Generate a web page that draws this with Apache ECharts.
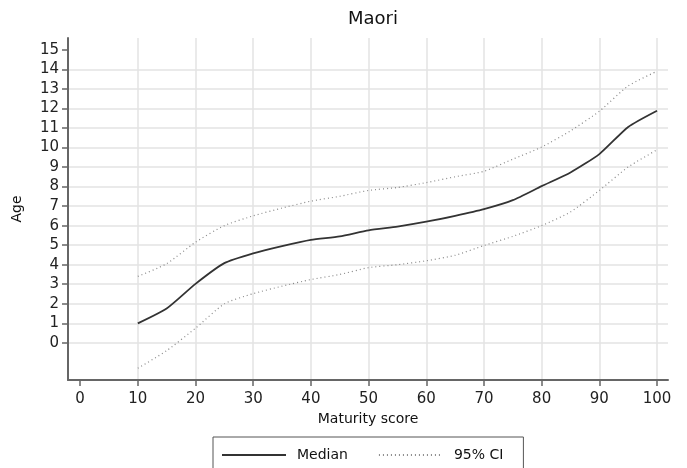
<!DOCTYPE html>
<html>
<head>
<meta charset="utf-8">
<script src="https://cdn.jsdelivr.net/npm/echarts@6/dist/echarts.min.js"></script>
<style>
  body { margin: 0; background: #fff; }
  #chart { width: 687px; height: 468px; }
</style>
</head>
<body>
<div id="chart"></div>
<script>
    // maturity score (x) and ages
    var scores = [10, 15, 20, 25, 30, 35, 40, 45, 50, 55, 60, 65, 70, 75, 80, 85, 90, 95, 100];
    var median = [1.0, 1.76, 3.02, 4.08, 4.58, 4.95, 5.27, 5.45, 5.76, 5.95, 6.2, 6.5, 6.84, 7.3, 8.02, 8.72, 9.66, 11.05, 11.88];
    var upperCI = [3.4, 4.05, 5.15, 6.0, 6.5, 6.9, 7.25, 7.5, 7.8, 7.95, 8.2, 8.5, 8.78, 9.4, 10.02, 10.85, 11.85, 13.15, 13.9];
    var lowerCI = [-1.3, -0.4, 0.75, 2.0, 2.52, 2.9, 3.24, 3.5, 3.85, 4.0, 4.2, 4.48, 4.98, 5.45, 6.0, 6.7, 7.8, 9.0, 9.88];
    var xTicks = [0, 10, 20, 30, 40, 50, 60, 70, 80, 90, 100];
    var yTicks = [0, 1, 2, 3, 4, 5, 6, 7, 8, 9, 10, 11, 12, 13, 14, 15];

    var font = 'DejaVu Sans';
    var chart = echarts.init(document.getElementById('chart'));

    function pairs(ys) {
        return scores.map(function (x, i) { return [x, ys[i]]; });
    }

    var option = {
        animation: false,
        backgroundColor: '#fff',
        title: {
            text: 'Maori',
            left: 368,
            textAlign: 'center',
            top: 5,
            textStyle: { fontFamily: font, fontSize: 18, fontWeight: 'normal', color: '#111' }
        },
        grid: { left: 68, right: 19, top: 38, bottom: 88 },
        legend: {
            left: 213,
            top: 437,
            padding: [11, 20, 14, 8],
            borderColor: '#555',
            borderWidth: 1,
            itemWidth: 64,
            itemHeight: 10,
            itemGap: 30,
            itemStyle: { opacity: 0 },
            textStyle: { fontFamily: font, fontSize: 14, color: '#111', padding: [0, 0, 0, 6] },
            data: ['Median', '95% CI']
        },
        xAxis: [{
            type: 'value',
            min: -2.1,
            max: 101.9,
            name: 'Maturity score',
            nameLocation: 'middle',
            nameGap: 29,
            nameTextStyle: { fontFamily: font, fontSize: 14, color: '#111' },
            axisLine: { onZero: false, lineStyle: { color: '#666', width: 2 } },
            axisTick: { length: 6, lineStyle: { color: '#666', width: 1.5 }, customValues: xTicks },
            axisLabel: { fontFamily: font, fontSize: 15, color: '#222', margin: 12, customValues: xTicks },
            splitLine: { show: false }
        }, {
            type: 'value',
            min: -2.1,
            max: 101.9,
            position: 'bottom',
            axisLine: { show: false, onZero: false },
            axisTick: { show: false, customValues: xTicks.slice(1) },
            axisLabel: { show: false },
            splitLine: { show: true, lineStyle: { color: '#e3e3e3', width: 1.5 } }
        }],
        yAxis: [{
            type: 'value',
            min: -1.9,
            max: 15.6,
            name: 'Age',
            nameLocation: 'middle',
            nameGap: 44,
            nameTextStyle: { fontFamily: font, fontSize: 14, color: '#111' },
            axisLine: { show: true, onZero: false, lineStyle: { color: '#666', width: 2 } },
            axisTick: { show: true, length: 6, lineStyle: { color: '#666', width: 1.5 }, customValues: yTicks },
            axisLabel: { fontFamily: font, fontSize: 15, color: '#222', margin: 9, customValues: yTicks },
            splitLine: { show: false }
        }, {
            type: 'value',
            min: -1.9,
            max: 15.6,
            position: 'left',
            axisLine: { show: false, onZero: false },
            axisTick: { show: false, customValues: yTicks.slice(0, -1) },
            axisLabel: { show: false },
            splitLine: { show: true, lineStyle: { color: '#e3e3e3', width: 1.5 } }
        }],
        series: [
            {
                name: 'Median',
                type: 'line',
                data: pairs(median),
                symbol: 'none',
                smooth: 0.2,
                lineStyle: { color: '#333', width: 1.8 },
                itemStyle: { color: '#333' }
            },
            {
                name: '95% CI',
                type: 'line',
                data: pairs(upperCI),
                symbol: 'none',
                smooth: 0.2,
                lineStyle: { color: '#888', width: 1.2, type: [1, 3] },
                itemStyle: { color: '#888' }
            },
            {
                name: '95% CI',
                type: 'line',
                data: pairs(lowerCI),
                symbol: 'none',
                smooth: 0.2,
                lineStyle: { color: '#888', width: 1.2, type: [1, 3] },
                itemStyle: { color: '#888' }
            }
        ]
    };

    option && chart.setOption(option);
</script>
</body>
</html>
